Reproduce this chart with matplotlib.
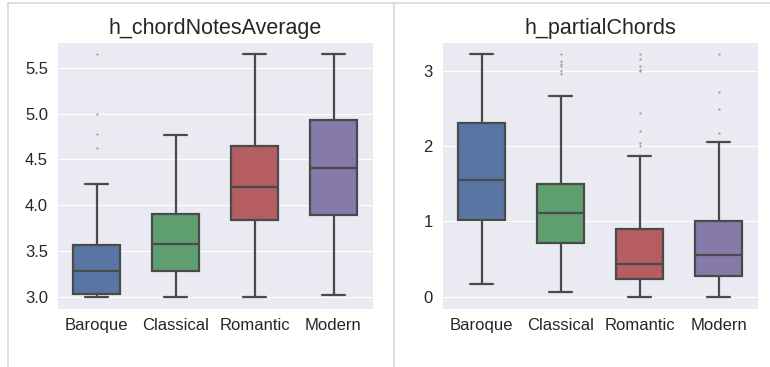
import matplotlib
matplotlib.use('Agg')
import matplotlib.pyplot as plt
from matplotlib.lines import Line2D
import seaborn as sns

sns.set_style('darkgrid')
plt.rcParams['font.family'] = ['Liberation Sans', 'DejaVu Sans']

categories = ['Baroque', 'Classical', 'Romantic', 'Modern']

# h_chordNotesAverage box statistics
chord_whislo = [3.00, 3.00, 3.00, 3.02]
chord_q1 = [3.03, 3.28, 3.84, 3.89]
chord_med = [3.28, 3.58, 4.20, 4.41]
chord_q3 = [3.57, 3.90, 4.65, 4.93]
chord_whishi = [4.23, 4.77, 5.65, 5.65]
chord_fliers = [[5.65, 5.00, 4.78, 4.63], [], [], []]

# h_partialChords box statistics
partial_whislo = [0.17, 0.07, 0.00, 0.00]
partial_q1 = [1.02, 0.71, 0.235, 0.275]
partial_med = [1.55, 1.11, 0.435, 0.56]
partial_q3 = [2.31, 1.50, 0.90, 1.00]
partial_whishi = [3.22, 2.66, 1.87, 2.06]
partial_fliers = [[],
                  [3.22, 3.13, 3.09, 3.06, 3.00, 2.96],
                  [3.22, 3.15, 3.06, 3.01, 3.00, 2.44, 2.20, 2.04, 2.00],
                  [3.22, 2.72, 2.49, 2.17]]

palette = [sns.desaturate(c, 0.75) for c in ['#4C72B0', '#55A868', '#C44E52', '#8172B2']]
edge = '#4a4a4a'


def make_stats(lo, q1, med, q3, hi, fliers):
    return [dict(whislo=a, q1=b, med=c, q3=d, whishi=e, fliers=f, label=lab)
            for a, b, c, d, e, f, lab in zip(lo, q1, med, q3, hi, fliers, categories)]


def draw(ax, stats, title):
    bp = ax.bxp(stats, positions=range(len(stats)), widths=0.6, patch_artist=True,
                boxprops=dict(edgecolor=edge, linewidth=1.6),
                medianprops=dict(color=edge, linewidth=1.6),
                whiskerprops=dict(color=edge, linewidth=1.6),
                capprops=dict(color=edge, linewidth=1.6),
                flierprops=dict(marker='o', markersize=0.6, markerfacecolor='#9a9a9a',
                                markeredgecolor='#9a9a9a', linestyle='none'))
    for box, col in zip(bp['boxes'], palette):
        box.set_facecolor(col)
    ax.set_xlim(-0.5, len(stats) - 0.5)
    ax.xaxis.grid(False)
    ax.set_title(title, fontsize=15.5, color='#262626')
    ax.tick_params(axis='both', labelsize=12, colors='#262626', pad=6.5, length=0)


fig = plt.figure(figsize=(7.7, 3.67), dpi=100)
ax1 = fig.add_axes([57 / 770, 58 / 367, 316 / 770, 267 / 367])
ax2 = fig.add_axes([442 / 770, 58 / 367, 316 / 770, 267 / 367])

draw(ax1, make_stats(chord_whislo, chord_q1, chord_med, chord_q3, chord_whishi, chord_fliers),
     'h_chordNotesAverage')
ax1.set_yticks([3.0, 3.5, 4.0, 4.5, 5.0, 5.5])
ax1.set_yticklabels(['3.0', '3.5', '4.0', '4.5', '5.0', '5.5'])

draw(ax2, make_stats(partial_whislo, partial_q1, partial_med, partial_q3, partial_whishi, partial_fliers),
     'h_partialChords')
ax2.set_yticks([0, 1, 2, 3])

# thin frame lines around the two panels
frame = '#d9d9d9'
fig.add_artist(Line2D([8 / 770, 1], [1 - 3 / 367, 1 - 3 / 367], color=frame, lw=1.2))
fig.add_artist(Line2D([8 / 770, 8 / 770], [0, 1 - 3 / 367], color=frame, lw=1.2))
fig.add_artist(Line2D([394 / 770, 394 / 770], [0, 1 - 3 / 367], color=frame, lw=1.2))

fig.savefig('out.png', dpi=100, facecolor='white')
